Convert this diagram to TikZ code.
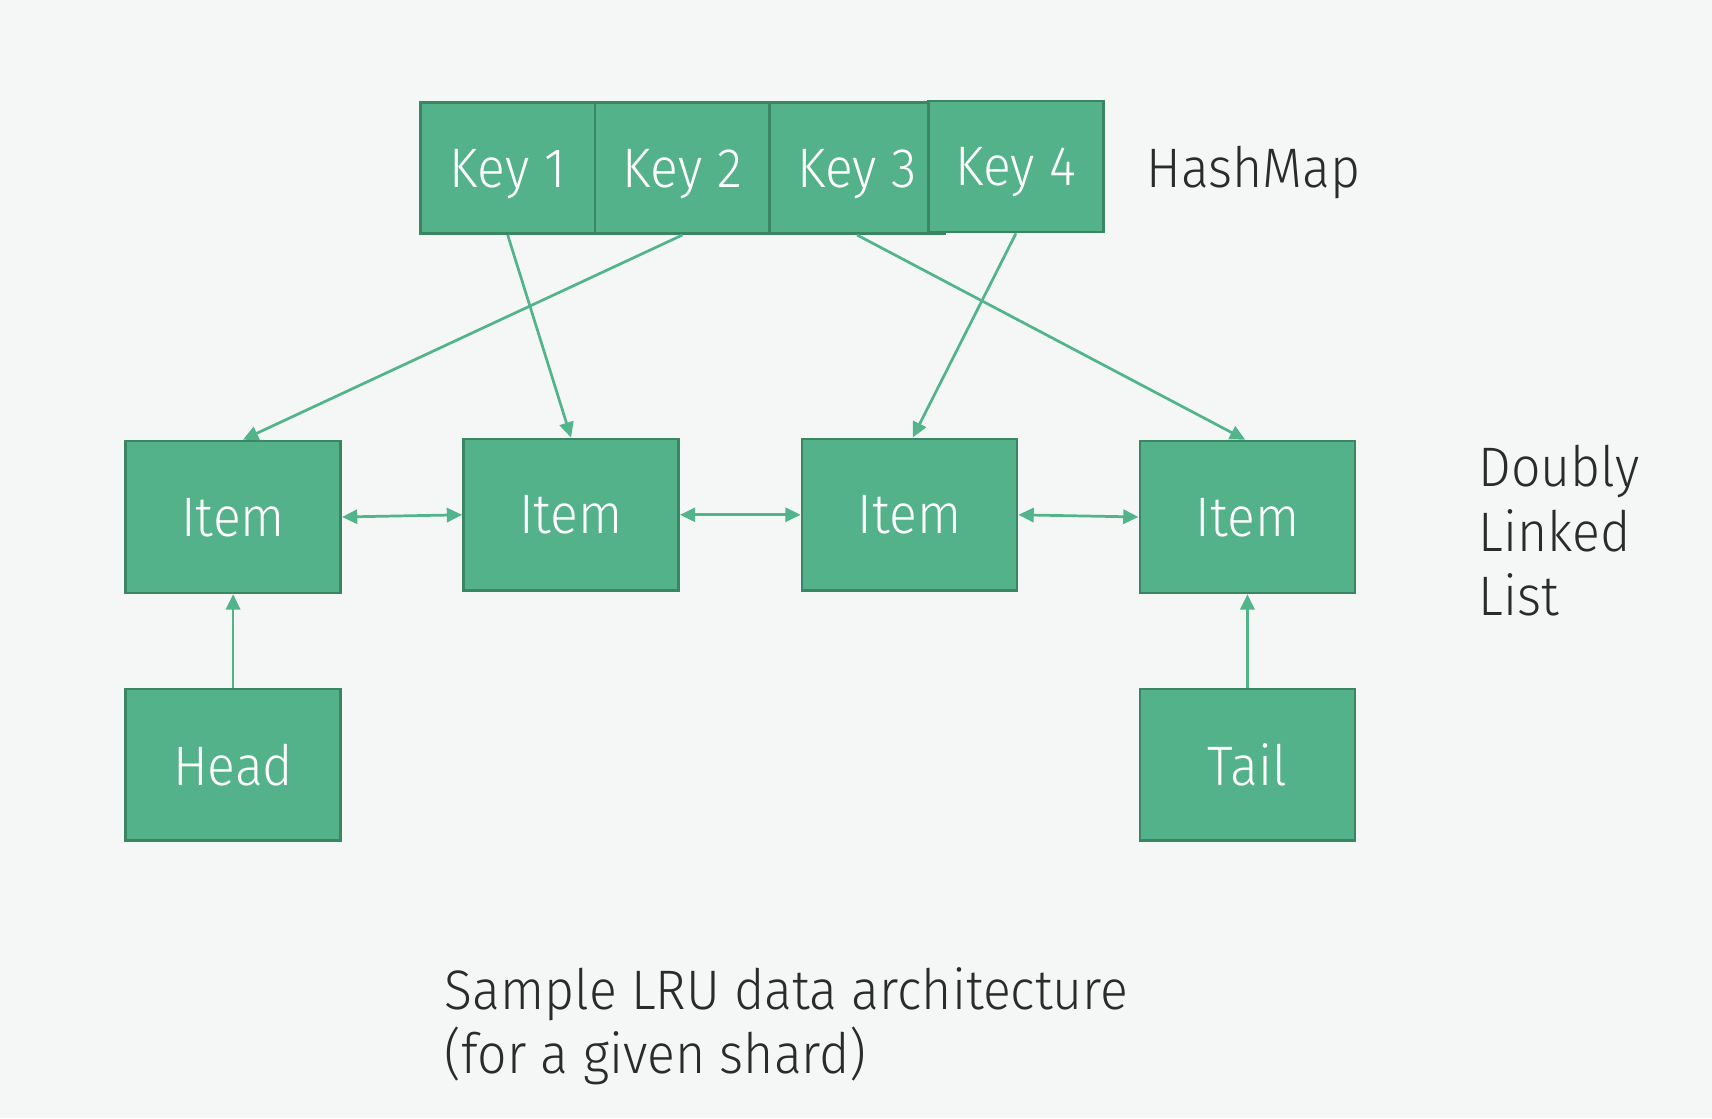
\documentclass[tikz,border=0pt]{standalone}
\usepackage{fontspec}
\setmainfont[FakeStretch=0.93]{Fira Sans Light}
\usetikzlibrary{arrows.meta}
\definecolor{bg}{HTML}{F5F7F6}
\definecolor{boxfill}{HTML}{53B28A}
\definecolor{boxline}{HTML}{3A8663}
\definecolor{arrowc}{HTML}{52B48A}
\definecolor{darktext}{HTML}{2B2B2B}
\begin{document}
\begin{tikzpicture}[x=1pt,y=-1pt,
  bigfont/.style={font=\fontsize{51}{59}\selectfont},
  boxbase/.style={draw=boxline, line width=2.5pt, fill=boxfill, text=white, bigfont, inner sep=0pt, text depth=0pt},
  keybox/.style={boxbase, minimum width=160pt, minimum height=120pt},
  itembox/.style={boxbase, minimum width=197pt, minimum height=139pt},
  label/.style={text=darktext, bigfont, inner sep=0pt, align=left},
  conn/.style={draw=arrowc, line width=2.5pt, -{Triangle[length=14pt,width=13pt]}},
  biconn/.style={draw=arrowc, line width=2.5pt, {Triangle[length=14pt,width=13pt]}-{Triangle[length=14pt,width=13pt]}}
]
\fill[bg] (0,0) rectangle (1568,1024);
\useasboundingbox (0,0) rectangle (1568,1024);

% HashMap keys
\node[keybox] (k1) at (465,154) {Key 1};
\node[keybox] (k2) at (625,154) {Key 2};
\node[keybox] (k3) at (785,154) {Key 3};
\node[keybox] (k4) at (930.5,152.5) {Key 4};
\node[label, anchor=west] (hm) at (1050,158) {HashMap};

% Items
\node[itembox] (i1) at (213.5,473.5) {Item};
\node[itembox] (i2) at (523,471.5) {Item};
\node[itembox] (i3) at (833,471.5) {Item};
\node[itembox] (i4) at (1142.5,473.5) {Item};
\node[itembox] (head) at (213.5,700.5) {Head};
\node[itembox] (tail) at (1142.5,700.5) {Tail};

\node[label, anchor=west] (dll) at (1354,486) {Doubly\\Linked\\List};
\node[label, anchor=north west] (cap) at (407,886) {Sample LRU data architecture\\(for a given shard)};

% connectors
\draw[conn] (k2.south) -- ([xshift=9pt]i1.north);
\draw[conn] (k1.south) -- (i2.north);
\draw[conn] (k4.south) -- ([xshift=3pt]i3.north);
\draw[conn] (k3.south) -- ([xshift=-2pt]i4.north);
\draw[biconn] (i1.east) -- (i2.west);
\draw[biconn] (i2.east) -- (i3.west);
\draw[biconn] (i3.east) -- (i4.west);
\draw[conn] (head.north) -- (i1.south);
\draw[conn] (tail.north) -- (i4.south);
\end{tikzpicture}
\end{document}
